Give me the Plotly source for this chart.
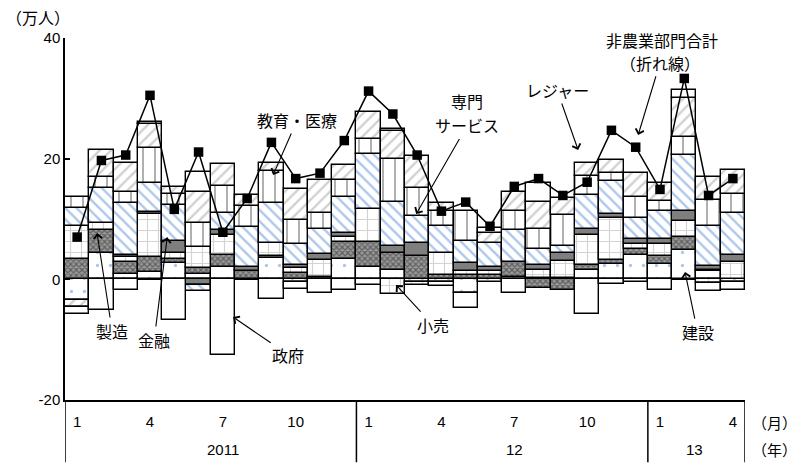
import plotly.graph_objects as go

# Month index: Jan 2011 ... Apr 2013 (28 months)
month_idx = list(range(28))
tick_pos = [0, 3, 6, 9, 12, 15, 18, 21, 24, 27]
tick_text = ["1", "4", "7", "10", "1", "4", "7", "10", "1", "4"]
y_tick_vals = [-20, 0, 20, 40]
y_tick_text = ["-20", "0", "20", "40"]
year_labels = ["2011", "12", "13"]
year_pos = [6, 18, 25.4]

# Employment change by sector (万人)
construction = [-3.5, 4.3, 0.9, 1.2, 2.7, 0.9, 2.0, 0.0, 3.6, -0.45, 0.0, 3.4, 2.0, 1.6,
                -0.4, -0.45, -2.3, -0.4, 0.4, 0.3, 0.3, 1.6, 2.5, 4.0, 2.6, 4.8, 1.3, -0.4]
manufacturing = [3.3, 3.9, 2.0, 2.5, 0.7, 1.0, 2.1, 1.4, 0.3, 1.0, 0.4, 2.8, 4.2, 2.8,
                 3.9, 0.8, 0.7, 0.7, 2.4, -1.4, -1.8, 0.7, 0.7, 1.1, 1.3, 2.2, 0.3, 0.0]
retail = [5.5, 1.1, 0.8, 7.2, 1.0, 3.5, 3.3, 0.0, 2.2, 0.8, 2.8, 0.8, 5.5, -2.4,
          -0.6, 3.6, 0.7, 0.6, 0.0, 1.3, 2.8, 5.0, 7.0, 0.8, 2.0, 2.7, -0.6, 2.9]
finance = [0.0, 0.0, 0.3, 0.2, 1.9, -1.0, 0.8, 0.7, 0.0, 0.5, 1.0, 0.7, 0.0, 1.2,
           2.2, 0.0, 1.3, 0.8, 0.0, 0.7, 1.2, 1.1, 0.6, 0.8, 0.8, 1.6, 0.6, 1.1]
prof_services = [3.0, 5.8, 8.7, 4.8, 6.1, -0.9, 2.8, 6.6, 6.6, 3.5, 4.1, 5.9, 9.0, 7.3,
                 4.4, 4.4, 3.7, 3.9, 5.4, 2.8, 1.3, 5.5, 5.5, 3.5, 4.6, 9.3, 6.6, 7.0]
edu_health = [1.8, 1.9, 1.8, 5.8, 1.7, 3.9, 4.4, 3.5, 5.3, 4.0, 2.7, 2.9, 2.6, 7.0,
              4.7, 2.5, 5.0, 0.0, 3.2, 3.3, 5.0, 3.3, 1.4, 3.5, 1.7, 3.0, 4.3, 3.1]
leisure = [-1.1, 4.4, 4.7, 4.0, 1.2, 5.2, 3.7, 1.8, 1.2, 5.1, 5.5, 2.5, 4.4, 4.7,
           5.3, 1.4, 0.0, 1.7, 3.0, 4.4, 2.9, 2.1, 2.1, 4.0, 2.9, 6.4, 3.9, 4.1]
government = [-1.1, -5.1, -1.8, 0.0, -6.7, 0.0, -12.6, 0.0, -3.2, -1.1, -2.3, -1.8, -1.0, 0.0,
              0.0, -0.65, -2.5, 0.0, -2.3, 0.0, 0.0, -5.8, -0.8, -0.4, -1.7, 0.0, -1.3, -1.3]
other = [0.0, 0.0, 0.0, 0.3, 0.0, 3.3, 0.0, 0.0, 0.0, 0.0, 0.0, 0.0, 0.0, 0.4,
         0.0, 0.0, 0.0, 0.8, 0.0, 3.1, 0.0, 0.0, 0.0, 0.0, 0.0, 1.3, 0.0, 0.0]
# Total nonfarm payrolls (line)
nonfarm_total = [7.0, 19.7, 20.6, 30.5, 11.6, 21.1, 7.8, 13.4, 22.7, 16.7, 17.6, 23.0, 31.2, 27.4,
                 20.6, 11.3, 12.8, 8.8, 15.4, 16.7, 13.9, 16.1, 24.7, 21.9, 14.9, 33.3, 13.9, 16.7]

BLUE = "#5b8fd6"
series = [
    ("建設", construction, dict(shape=".", bgcolor="white", fgcolor=BLUE, size=13, solidity=0.05)),
    ("製造", manufacturing, dict(shape="x", bgcolor="#9a9a9a", fgcolor="#222222", size=4, solidity=0.5)),
    ("小売", retail, dict(shape="+", bgcolor="white", fgcolor="#a8a8a8", size=11, solidity=0.2)),
    ("金融", finance, None),
    ("専門サービス", prof_services, dict(shape="\\", bgcolor="white", fgcolor=BLUE, size=8, solidity=0.3)),
    ("教育・医療", edu_health, dict(shape="|", bgcolor="white", fgcolor="#222222", size=12, solidity=0.12)),
    ("レジャー", leisure, dict(shape="/", bgcolor="white", fgcolor="#a3a3a3", size=8, solidity=0.3)),
    ("政府", government, None),
    ("その他", other, None),
]
solid_colors = {"金融": "#7f7f7f", "政府": "white", "その他": "white"}

fig = go.Figure()
for name, vals, pat in series:
    marker = dict(line=dict(color="black", width=1.4))
    if pat is None:
        marker["color"] = solid_colors[name]
    else:
        marker["color"] = pat["bgcolor"]
        marker["pattern"] = pat
    fig.add_trace(go.Bar(
        x=month_idx,
        y=[v if v != 0 else None for v in vals],
        name=name,
        marker=marker,
        hoverinfo="skip",
    ))

fig.add_trace(go.Scatter(
    x=month_idx, y=nonfarm_total, mode="lines+markers", name="非農業部門合計",
    line=dict(color="black", width=1.5),
    marker=dict(symbol="square", size=9.5, color="black"),
    hoverinfo="skip",
))

FONT = "Liberation Sans, Arial, Noto Sans CJK JP, sans-serif"
JP_FONT = "Noto Sans CJK JP, sans-serif"
fig.update_layout(
    width=803, height=465,
    margin=dict(l=65, r=58, t=38, b=65),
    paper_bgcolor="white", plot_bgcolor="white",
    barmode="relative", bargap=0,
    showlegend=False,
    font=dict(family=FONT, size=15, color="black"),
)
fig.update_yaxes(
    range=[-20, 40], tickvals=y_tick_vals, ticktext=y_tick_text,
    showline=True, linecolor="black", linewidth=1.5,
    ticks="inside", ticklen=5, tickcolor="black", tickwidth=1.5,
    showgrid=False, zeroline=True, zerolinecolor="black", zerolinewidth=1,
)
fig.update_xaxes(
    range=[-0.5, 27.5], tickvals=tick_pos, ticktext=tick_text,
    showline=True, linecolor="black", linewidth=1.5,
    ticks="", showgrid=False, zeroline=False, ticklabelstandoff=7,
)

# Year group dividers below the category axis
for xd in [-0.5, 11.5, 23.5, 27.5]:
    fig.add_shape(type="line", xref="x", yref="paper", x0=xd, x1=xd, y0=0, y1=-0.172,
                  line=dict(color="black", width=1.5))

for label, xp in zip(year_labels, year_pos):
    fig.add_annotation(x=xp, y=-0.138, xref="x", yref="paper", text=label,
                       showarrow=False, xanchor="center", yanchor="middle",
                       font=dict(size=15))
for label, yp in [("（月）", -0.061), ("（年）", -0.138)]:
    fig.add_annotation(x=1.044, y=yp, xref="paper", yref="paper", text=label,
                       showarrow=False, xanchor="center", yanchor="middle",
                       font=dict(size=15, family=JP_FONT))
fig.add_annotation(x=-0.04, y=1.058, xref="paper", yref="paper", text="（万人）",
                   showarrow=False, xanchor="center", yanchor="middle",
                   font=dict(size=16, family=JP_FONT))

# Sector labels with pointer arrows: (text, tip x, tip y, text x, text y)
callouts = [
    ("製造", 0.82, 7.67, 1.44, -8.57),
    ("金融", 3.71, 7.0, 3.17, -10.06),
    ("政府", 6.42, -6.25, 8.69, -12.5),
    ("小売", 13.13, -0.95, 14.66, -7.57),
    ("建設", 25.03, 1.21, 25.55, -8.74),
    ("教育・医療", 8.07, 17.29, 9.06, 26.41),
    ("サービス", 13.96, 10.82, 16.06, 25.5),
    ("レジャー", 20.63, 21.43, 19.76, 31.38),
    ("（折れ線）", 23.1, 23.92, 24.0, 35.9),
]
for text, tx, ty, lx, ly in callouts:
    fig.add_annotation(
        x=tx, y=ty, ax=lx, ay=ly, xref="x", yref="y", axref="x", ayref="y",
        text=text, showarrow=True, arrowhead=4, arrowsize=1.5, arrowwidth=1.1,
        arrowcolor="black", font=dict(size=16, family=JP_FONT), bgcolor="rgba(0,0,0,0)",
    )

# First lines of the two-line labels
for text, lx, ly in [("専門", 16.06, 29.5), ("非農業部門合計", 24.08, 39.7)]:
    fig.add_annotation(x=lx, y=ly, xref="x", yref="y", text=text, showarrow=False,
                       xanchor="center", yanchor="middle",
                       font=dict(size=16, family=JP_FONT))

fig.write_html("out.html")
